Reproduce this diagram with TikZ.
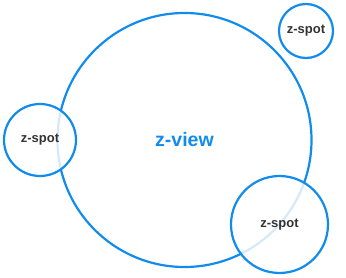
\documentclass[tikz,border=0pt]{standalone}
\usepackage{fontspec}
\setmainfont{Liberation Sans}
\definecolor{zblue}{RGB}{18,140,236}
\definecolor{zgray}{RGB}{51,51,51}
\begin{document}
\begin{tikzpicture}[x=1pt,y=-1pt,
  ring/.style={circle, draw=zblue, line width=2.2pt, inner sep=0pt},
  spot/.style={ring, fill=white, fill opacity=0.82, text opacity=1,
    text=zgray, font=\bfseries\fontsize{13}{14}\selectfont},
  view/.style={ring, text=zblue, font=\bfseries\fontsize{19.5}{22}\selectfont}]
\useasboundingbox (0,0) rectangle (346,278);
\node[view, minimum size=254pt] (view) at (184.5,140) {\raisebox{-2pt}{z-view}};
\node[spot, minimum size=54pt] (spotA) at (306,31) {\raisebox{-1pt}{z-spot}};
\node[spot, minimum size=72pt] (spotB) at (40,140) {z-spot};
\node[spot, minimum size=97pt] (spotC) at (279.5,224.5) {z-spot};
\end{tikzpicture}
\end{document}
